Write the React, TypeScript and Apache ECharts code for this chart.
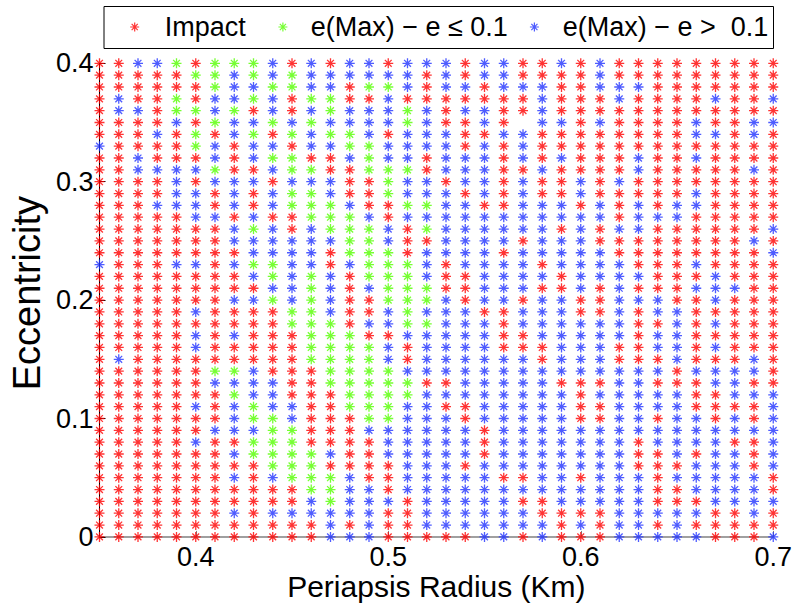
import React, { useEffect, useRef } from 'react';
import * as echarts from 'echarts';

// Grid coordinates of the sampled orbits
const xValues = [0.35, 0.36, 0.37, 0.38, 0.39, 0.40, 0.41, 0.42, 0.43, 0.44, 0.45, 0.46,
  0.47, 0.48, 0.49, 0.50, 0.51, 0.52, 0.53, 0.54, 0.55, 0.56, 0.57, 0.58,
  0.59, 0.60, 0.61, 0.62, 0.63, 0.64, 0.65, 0.66, 0.67, 0.68, 0.69, 0.70];
const yValues = [0.40, 0.39, 0.38, 0.37, 0.36, 0.35, 0.34, 0.33, 0.32, 0.31, 0.30,
  0.29, 0.28, 0.27, 0.26, 0.25, 0.24, 0.23, 0.22, 0.21, 0.20,
  0.19, 0.18, 0.17, 0.16, 0.15, 0.14, 0.13, 0.12, 0.11, 0.10,
  0.09, 0.08, 0.07, 0.06, 0.05, 0.04, 0.03, 0.02, 0.01, 0.00];

// Outcome class of each grid cell, one string per eccentricity row (top row = 0.40)
// R = Impact, G = e(Max) - e <= 0.1, B = e(Max) - e > 0.1, _ = no point
const outcomeRows = [
  'RRBBGRGGGBRBRBBRBBBRBBRRBRBRRRRRRRRR',
  'RRRRRGGBGBGBBBBBBRBRBBRRRRBRRRRRRRRR',
  'RRRRRRGBBGGBBRGGBRBBRBBBRRBBBRRRRRRR',
  'RBRRGRBBGBRGGRRBRRRRRRRBRRRBRRRRBRRB',
  'RBBRGGBGRBRBGBBBGBRBBRRBRRRRRRRRRRRR',
  'RRRRBRGBBGBGBBBBGBRRBR_BBRBRRRRBRRBB',
  'RRRBRGRBGRGBGGBRBBBRRBBRRRRRRRRBBRBR',
  'BRRRRGBRBBRBBGGBBBBRBRBRRRRRRRRRRRRR',
  'RRBRRRBRBGGRRBGBBRBBBRBRBRRRBRRBRRRR',
  'RRBBBBGRRBGGRRGGGRBBBRRBRRRRBRRRRRBR',
  'RRRRBRBBBRBBBRRGBBRBBRBRRBRBRRRRRRRR',
  'RRRRBBRBRBGGBRRGBBBRBRBRRBRRRRRBRRRR',
  'RRRBBBRBRBGGGBRRGGBBRRBBBRBRBRBBRRRR',
  'RRRRRBBRBRRGGGBRBBBBBBBBBBBRBBBRRRRR',
  'RRRRRRRBGBRBGGGBRGBBBBBBRBRBBRRRRRRB',
  'RRRRRRRBBBBBBGGBRRBBBBRBBBRRRRRRRRBR',
  'RRRRRRRRBBBBRGGGRBBBBRBBBBBRRRRRRRRB',
  'BRRRBBRBGGBBRBGGGBRBBBBRBBBBRRRBRRRR',
  'RRRRRRRRBGBGBRGGGBRRBBBBRBBBBRRRBRRR',
  'RRRRRRRRRBBGBRBGGGRRBBBRRBRBRRRBBBRR',
  'RRRRRRRBBGBGBRRGGGBRBBRBBRRBBBRRBRRR',
  'RRRRRBRRRRGGBRRBGBBBRRBBBRRBRBBRRRRR',
  'RRRRRRRRRRGGGRBBGGBBBRBBBBBBRRBRBRRR',
  'RRRRRBRBRRRGGGRRBBBBBRRBBBBBRBBRRRRR',
  'RRRRRBRRRRRGGGGBRBBBBRRRBBBRRBBRBRRR',
  'RBRRRRRRRRRGGGGBRBBBBBBRBBBRRRBRRRBR',
  'RRRRRRGGBRRRGGGGBBBBBBBBBBBBBBRBBBBR',
  'RRRRRRBBBBRRGGGGGRRBBBBBRRRBBRRRBBRR',
  'RRRRRRRGBBRRRGGGGBBBBBBBBRBBBBBRRBBB',
  'RRRRRBRBGBBRRGGGBBRRBBBBBRRBBBBRRRRB',
  'RRRRRRRBGGBRRRGGBBBRBBBBBRRBBRBBRBRB',
  'RRRRRRBBBGGRRRBBBBBBRBBBBBBBBBBBBBBB',
  'RRRRRBRRGGGRRRRBBBBBRBBBBBBBRBBBBRRB',
  'RRRRRRRBGGGGBRRBBBBBRBBBBBBBRRBRBBRB',
  'RRRRRRRRRGGGRRRRBBBRBBBBBBBBRRRBBBRB',
  'RRRRRRRBRBGGGBRRBBBBBRRBBRBBBRBBBBBR',
  'RRRRRRRRRRRGGBBRBBBBBBBBBBBBBRRBBBBR',
  'RRRRRRRRRRRBGBBBRBBBBBRRBBBBBRRRBBBB',
  'RRRRRRRBRBBBBBBRRBBBBBBRRRRBBBBBRRBR',
  'RRRRRRRRRRRRBRBRRBBBBBBBRBRBBRBRRRRR',
  'RRRRRRRRRRRRBBBRRRRRBBRBRRRBBBBBRRRB',
];

const xTicks = [0.4, 0.5, 0.6, 0.7];
const classCodes = ['R', 'G', 'B'];
const seriesNames = ['Impact', 'e(Max) \u2212 e \u2264 0.1', 'e(Max) \u2212 e >  0.1'];
const seriesColors = ['#ff0000', '#55ff00', '#2233ff'];

// legend item placement (icon centre x, text start x)
const legendIconX = [135.7, 281.7, 533.7];
const legendTextX = [165.7, 309.5, 562];
const LEGEND_SHIFT = 17;

const asterisk = 'path://M0,5L10,5M5,0L5,10M1.6,1.6L8.4,8.4M8.4,1.6L1.6,8.4';
const FONT = 'Liberation Sans, Arial, Helvetica, sans-serif';

export default function App() {
  const ref = useRef<HTMLDivElement>(null);

  useEffect(() => {
    if (!ref.current) return;
    const chart = echarts.init(ref.current, null, { renderer: 'svg' });

    const buckets: number[][][] = classCodes.map(() => []);
    outcomeRows.forEach((row, r) => {
      for (let c = 0; c < row.length; c++) {
        const k = classCodes.indexOf(row[c]);
        if (k >= 0) buckets[k].push([xValues[c], yValues[r]]);
      }
    });

    const series = classCodes.map((_, k) => ({
      type: 'scatter' as const,
      name: seriesNames[k],
      data: buckets[k],
      symbol: asterisk,
      symbolSize: 10,
      clip: false,
      itemStyle: { color: 'none', borderColor: seriesColors[k], borderWidth: 1.3 },
      emphasis: { disabled: true },
    }));

    const legends = seriesNames.map((n, k) => {
      const w = 2 * (legendTextX[k] - legendIconX[k] - 5);
      return {
        left: legendIconX[k] - w / 2 + LEGEND_SHIFT,
        top: 12,
        padding: 0,
        orient: 'horizontal',
        selectedMode: false,
        itemWidth: w,
        itemHeight: 9,
        symbolKeepAspect: true,
        textStyle: { fontSize: 27, color: '#000', fontFamily: FONT, lineHeight: 30 },
        data: [{
          name: n,
          icon: asterisk,
          itemStyle: { color: 'none', borderColor: seriesColors[k], borderWidth: 1.2 },
        }],
      };
    });

    chart.setOption({
      animation: false,
      backgroundColor: '#ffffff',
      textStyle: { fontFamily: FONT },
      legend: legends,
      graphic: [{
        type: 'rect',
        silent: true,
        shape: { x: 104, y: 6.5, width: 669.5, height: 42 },
        style: { fill: 'none', stroke: '#000', lineWidth: 1 },
      }],
      grid: {
        left: 99.5, right: 23.75, top: 63.3, bottom: 71.1,
        containLabel: false,
        outerBoundsMode: 'none',
      },
      xAxis: {
        type: 'value',
        min: 0.35,
        max: 0.7,
        name: 'Periapsis Radius (Km)',
        nameLocation: 'middle',
        nameGap: 35,
        nameMoveOverlap: false,
        nameTextStyle: { fontSize: 30, lineHeight: 30, color: '#000', fontFamily: FONT },
        axisLine: { show: true, lineStyle: { color: '#808080', width: 1.5 } },
        axisTick: { show: true, inside: true, length: 6, customValues: xTicks, lineStyle: { color: '#808080' } },
        axisLabel: { customValues: xTicks, fontSize: 27, lineHeight: 26, color: '#000', margin: 7, fontFamily: FONT },
        splitLine: { show: false },
      },
      yAxis: {
        type: 'value',
        min: 0,
        max: 0.4,
        interval: 0.1,
        name: 'Eccentricity',
        nameLocation: 'middle',
        nameGap: 53,
        nameMoveOverlap: false,
        nameRotate: 90,
        nameTextStyle: { fontSize: 38, lineHeight: 40, color: '#000', fontFamily: FONT, padding: [0, 0, 0, 14] },
        axisLine: { show: true, lineStyle: { color: '#000000', width: 1 } },
        axisTick: { show: true, inside: true, length: 6, lineStyle: { color: '#000' } },
        axisLabel: { fontSize: 27, color: '#000', margin: 6, fontFamily: FONT },
        splitLine: { show: false },
      },
      series,
    });

    return () => chart.dispose();
  }, []);

  return (
    <div
      ref={ref}
      style={{ position: 'fixed', left: 0, top: 0, width: 797, height: 608, background: '#fff' }}
    />
  );
}
